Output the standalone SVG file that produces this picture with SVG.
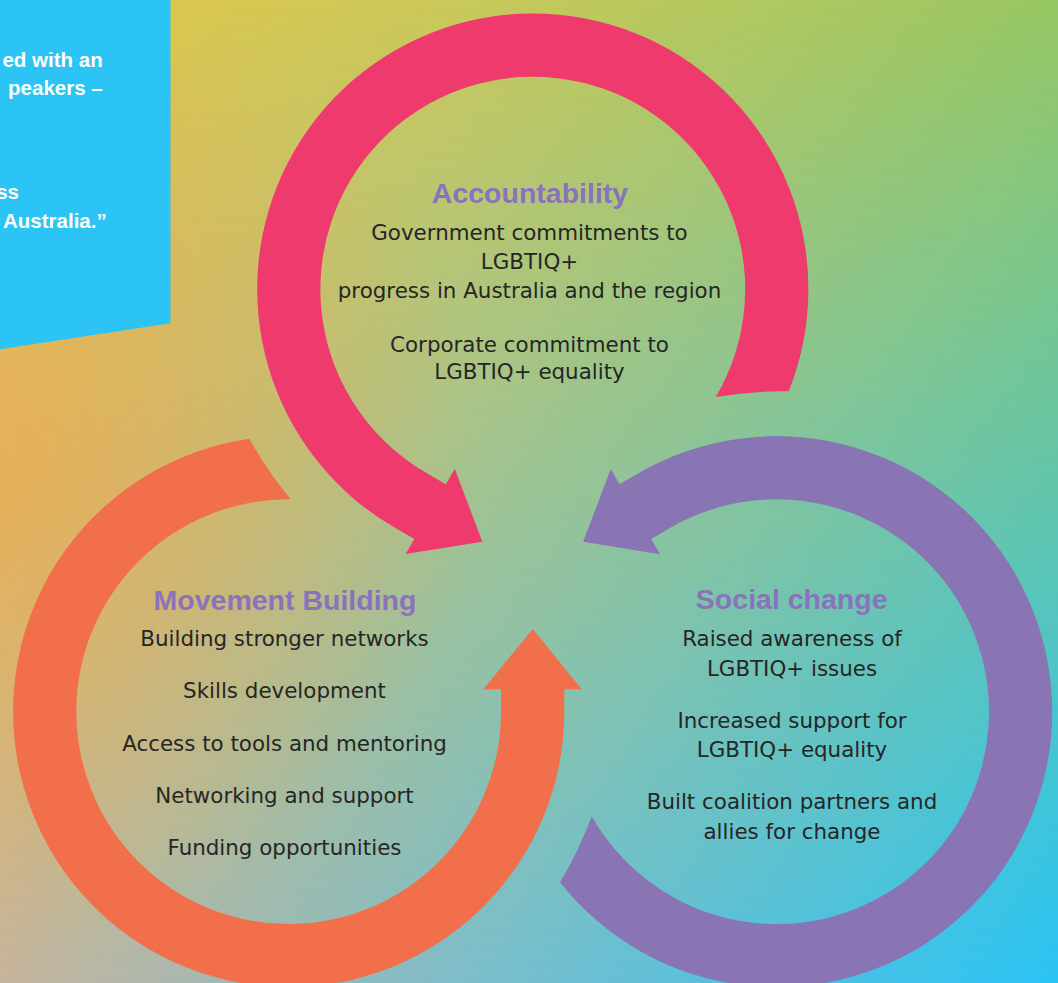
<svg xmlns="http://www.w3.org/2000/svg" width="1058" height="983" viewBox="0 0 1058 983">
<defs>
<linearGradient id="gTop" x1="0" y1="0" x2="1" y2="0">
<stop offset="0" stop-color="#E4C548"/>
<stop offset="0.45" stop-color="#C8C95A"/>
<stop offset="1" stop-color="#98C763"/>
</linearGradient>
<linearGradient id="gBot" x1="0" y1="0" x2="1" y2="0">
<stop offset="0" stop-color="#C6B49C"/>
<stop offset="0.45" stop-color="#7ABDCB"/>
<stop offset="1" stop-color="#2AC4F5"/>
</linearGradient>
<linearGradient id="gV" x1="0" y1="0" x2="0" y2="1">
<stop offset="0" stop-color="#000"/>
<stop offset="1" stop-color="#fff"/>
</linearGradient>
<mask id="mV" maskUnits="userSpaceOnUse" x="0" y="0" width="1058" height="983">
<rect x="0" y="0" width="1058" height="983" fill="url(#gV)"/>
</mask>
<radialGradient id="gGlow" gradientUnits="userSpaceOnUse" cx="0" cy="470" r="480">
<stop offset="0" stop-color="#F2A84A" stop-opacity="0.6"/>
<stop offset="1" stop-color="#F2A84A" stop-opacity="0"/>
</radialGradient>
<path id="loop" d="M 249.3 438.8 A 275.6 275.6 0 1 0 564.3 711.6 L 564.3 689.3 L 581.7 689.3 L 532.7 629 L 483.3 689.3 L 501.1 689.3 L 501.1 711.6 A 212.4 212.4 0 1 1 290.7 499.2 Q 267.2 471 249.3 438.8 Z"/>
</defs>
<style>
.title { font-family: "Liberation Sans", Arial, sans-serif; font-weight: bold; font-size: 28.5px; fill: #8A72BC; text-anchor: middle; }
.body { font-family: "DejaVu Sans", sans-serif; font-size: 21.4px; fill: #262626; text-anchor: middle; }
.quote { font-family: "Liberation Sans", Arial, sans-serif; font-weight: bold; font-size: 20.5px; fill: #FFFFFF; text-anchor: end; }
</style>
<g id="background">
<rect x="0" y="0" width="1058" height="983" fill="url(#gTop)"/>
<rect x="0" y="0" width="1058" height="983" fill="url(#gBot)" mask="url(#mV)"/>
<rect x="0" y="0" width="1058" height="983" fill="url(#gGlow)"/>
</g>
<g id="quote-box">
<polygon points="0,0 170.5,0 170.5,323.3 0,349.3" fill="#2CC4F4"/>
<text class="quote" x="102.7" y="66.5">ed with an</text>
<text class="quote" x="102.7" y="95">peakers –</text>
<text class="quote" x="19" y="199">ss</text>
<text class="quote" x="106.7" y="228">Australia.”</text>
</g>
<g id="connectors">
<use href="#loop" fill="#F26F4B"/>
<use href="#loop" fill="#EF3A6D" transform="rotate(120 532.7 570.8)"/>
<use href="#loop" fill="#8974B4" transform="rotate(240 532.7 570.8)"/>
</g>
<g id="accountability">
<text class="title" x="530" y="202.5">Accountability</text>
<text class="body" x="529.5" y="240">Government commitments to</text>
<text class="body" x="529.5" y="268.6">LGBTIQ+</text>
<text class="body" x="529.5" y="298">progress in Australia and the region</text>
<text class="body" x="529.5" y="351.8">Corporate commitment to</text>
<text class="body" x="529.5" y="379.3">LGBTIQ+ equality</text>
</g>
<g id="movement-building">
<text class="title" x="285" y="610">Movement Building</text>
<text class="body" x="284.5" y="646">Building stronger networks</text>
<text class="body" x="284.5" y="698">Skills development</text>
<text class="body" x="284.5" y="751">Access to tools and mentoring</text>
<text class="body" x="284.5" y="803.2">Networking and support</text>
<text class="body" x="284.5" y="855">Funding opportunities</text>
</g>
<g id="social-change">
<text class="title" x="791.7" y="609.2">Social change</text>
<text class="body" x="792" y="646">Raised awareness of</text>
<text class="body" x="792" y="676">LGBTIQ+ issues</text>
<text class="body" x="792" y="728">Increased support for</text>
<text class="body" x="792" y="757.3">LGBTIQ+ equality</text>
<text class="body" x="792" y="809.2">Built coalition partners and</text>
<text class="body" x="792" y="839.2">allies for change</text>
</g>
</svg>
